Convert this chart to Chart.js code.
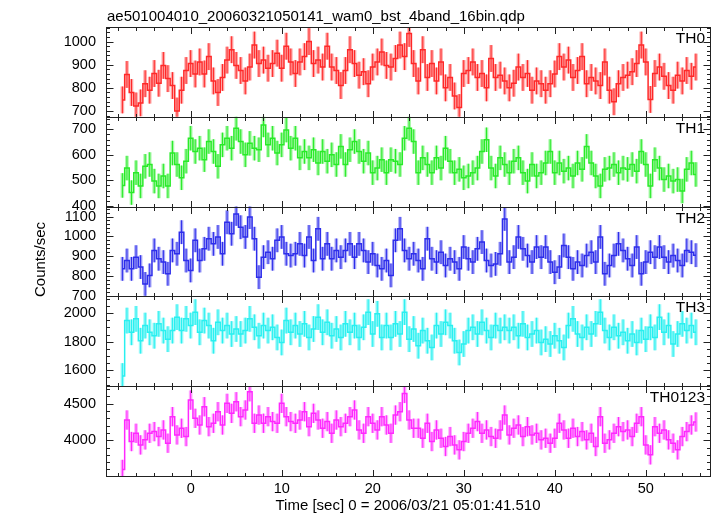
<!DOCTYPE html>
<html>
<head>
<meta charset="utf-8">
<script src="https://cdn.jsdelivr.net/npm/chart.js@4.4.1/dist/chart.umd.min.js"></script>
<style>
  html, body { margin: 0; padding: 0; background: #fff; }
</style>
</head>
<body>
<canvas id="lc" width="717" height="516"></canvas>
<script>
var titleText = 'ae501004010_20060321050141_wam0_bst_4band_16bin.qdp';
var xTitle = 'Time [sec] 0 = 2006/03/21 05:01:41.510';
var yTitle = 'Counts/sec';

// bins: 0.5 s, first bin centre at -7.5 s
var binStart = -7.5;
var binWidth = 0.5;

var bandNames = ['TH0', 'TH1', 'TH2', 'TH3', 'TH0123'];

var th0 = [748, 858, 780, 722, 735, 818, 790, 862, 820, 897,
  840, 810, 700, 790, 875, 905, 860, 912, 860, 935,
  830, 780, 845, 920, 965, 897, 875, 830, 890, 985,
  905, 920, 885, 905, 950, 885, 980, 912, 862, 912,
  935, 1000, 905, 920, 890, 980, 890, 875, 810, 875,
  965, 905, 855, 870, 818, 890, 912, 955, 897, 890,
  927, 985, 935, 1035, 905, 830, 965, 845, 905, 830,
  912, 800, 845, 765, 715, 862, 875, 912, 845, 862,
  800, 927, 845, 855, 830, 800, 820, 890, 845, 862,
  790, 830, 818, 790, 818, 860, 935, 890, 920, 845,
  875, 935, 818, 845, 830, 810, 912, 790, 740, 818,
  845, 855, 870, 905, 985, 912, 750, 862, 890, 850,
  810, 790, 855, 830, 875, 850, 890];

var th1 = [480, 548, 452, 530, 478, 555, 562, 497, 478, 517,
  478, 607, 562, 510, 575, 665, 613, 626, 581, 652,
  613, 555, 639, 665, 626, 704, 652, 600, 645, 626,
  620, 717, 639, 665, 607, 639, 697, 626, 665, 588,
  613, 588, 620, 568, 613, 575, 600, 562, 633, 562,
  620, 652, 613, 575, 607, 530, 548, 581, 530, 581,
  575, 562, 665, 704, 652, 530, 588, 562, 530, 588,
  548, 626, 575, 530, 543, 510, 517, 530, 548, 613,
  659, 548, 517, 588, 562, 530, 575, 588, 530, 497,
  562, 517, 530, 568, 613, 530, 568, 536, 548, 517,
  568, 543, 633, 568, 517, 478, 543, 548, 562, 530,
  548, 543, 562, 536, 613, 562, 478, 581, 548, 503,
  517, 497, 503, 458, 543, 568, 523];

var th2 = [836, 878, 836, 895, 845, 760, 803, 929, 887, 870,
  811, 929, 912, 1021, 878, 828, 980, 878, 937, 988,
  962, 997, 912, 1071, 1013, 1113, 1046, 997, 1097, 988,
  794, 895, 920, 887, 980, 997, 912, 903, 912, 962,
  903, 997, 878, 1038, 887, 962, 887, 929, 895, 929,
  962, 895, 962, 929, 870, 912, 853, 836, 878, 803,
  980, 1038, 929, 887, 912, 878, 836, 988, 887, 870,
  920, 853, 887, 870, 836, 946, 887, 870, 937, 971,
  878, 853, 861, 912, 1088, 870, 895, 997, 937, 903,
  870, 946, 895, 946, 870, 819, 845, 954, 895, 836,
  870, 853, 903, 920, 870, 997, 811, 853, 903, 962,
  929, 887, 853, 946, 811, 870, 920, 895, 946, 895,
  870, 903, 878, 853, 929, 920, 905];

var th3 = [1560, 1948, 1866, 1960, 1807, 1913, 1866, 1842, 1925, 1878,
  1818, 1878, 1972, 1878, 1960, 1913, 2007, 1866, 1948, 1913,
  1807, 1936, 1878, 1913, 1854, 1889, 1854, 1878, 1960, 1901,
  1842, 1913, 1878, 1901, 1830, 1795, 1948, 1866, 1913, 1854,
  1925, 1830, 1889, 1972, 1866, 1936, 1842, 1889, 1830, 1925,
  1866, 1913, 1830, 1901, 2007, 1854, 1995, 1830, 1913, 1830,
  1925, 1854, 2007, 1818, 1889, 1772, 1878, 1807, 1760, 1913,
  1854, 1936, 1913, 1807, 1725, 1784, 1878, 1901, 1854, 1936,
  1878, 1830, 1913, 1878, 1901, 1878, 1901, 1842, 1925, 1830,
  1854, 1878, 1795, 1818, 1784, 1842, 1807, 1760, 1913, 1960,
  1854, 1830, 1901, 1854, 1925, 2007, 1878, 1830, 1901, 1842,
  1866, 1807, 1854, 1795, 1878, 1818, 1901, 1830, 1972, 1866,
  1913, 1784, 1854, 1925, 1878, 1913, 1866];

var th0123 = [3600, 4277, 3982, 4095, 3936, 4005, 4095, 4118, 4050, 4141,
  3959, 4323, 4073, 4164, 4050, 4550, 4300, 4209, 4459, 4186,
  4232, 4391, 4209, 4505, 4368, 4527, 4323, 4414, 4664, 4232,
  4345, 4232, 4323, 4255, 4232, 4505, 4323, 4255, 4232, 4277,
  4391, 4186, 4368, 4277, 4164, 4255, 4095, 4277, 4186, 4232,
  4323, 4414, 4141, 4095, 4323, 4232, 4141, 4323, 4209, 4095,
  4345, 4391, 4641, 4277, 4164, 4164, 4027, 4232, 3982, 4141,
  4027, 3914, 4050, 3936, 3868, 3982, 4095, 4164, 4255, 4095,
  4141, 4050, 4027, 4141, 4345, 4073, 4164, 4209, 4050, 4186,
  4073, 4095, 4005, 4027, 3959, 4027, 4232, 4141, 4027, 4164,
  4050, 4118, 4005, 4095, 3914, 4323, 3959, 4005, 4095, 4186,
  4118, 4141, 4050, 4232, 4323, 3936, 3800, 4186, 4095, 4141,
  4005, 3959, 3868, 4050, 4118, 4209, 4250];

// typical 1-sigma error per band (counts/sec)
var bandErr = [58, 48, 60, 90, 132];

var yMin = [675, 397, 697, 1489, 3510];
var yMax = [1063, 749, 1150, 2117, 4740];
var yMajor = [[700, 800, 900, 1000], [400, 500, 600, 700], [700, 800, 900, 1000, 1100], [1600, 1800, 2000], [4000, 4500]];
var yMinorStep = [20, 20, 20, 50, 100];
var xMajor = [0, 10, 20, 30, 40, 50];
var xMinorStep = 2;

var bandColors = ['rgb(255,40,40)', 'rgb(40,235,40)', 'rgb(45,45,235)', 'rgb(40,240,240)', 'rgb(255,40,255)'];
var bandLight = ['rgba(255,40,40,0.42)', 'rgba(40,235,40,0.42)', 'rgba(45,45,235,0.42)', 'rgba(40,240,240,0.48)', 'rgba(255,40,255,0.42)'];

var FONT = '"Liberation Sans", Arial, Helvetica, sans-serif';
var series = [th0, th1, th2, th3, th0123];

function toPoints(arr) {
  return arr.map(function (v, i) { return { x: binStart + i * binWidth, y: v }; });
}

var datasets = series.map(function (arr, i) {
  return {
    label: bandNames[i],
    data: toPoints(arr),
    yAxisID: 'y' + i,
    borderColor: bandColors[i],
    borderWidth: 1.5,
    stepped: 'middle',
    pointRadius: 0,
    fill: false
  };
});

var scales = {
  x: {
    type: 'linear',
    position: 'bottom',
    min: -9.3,
    max: 57.05,
    grid: { display: false, drawTicks: false },
    border: { display: false },
    afterBuildTicks: function (s) { s.ticks = xMajor.map(function (v) { return { value: v }; }); },
    afterFit: function (s) { s.height = 40; },
    ticks: { color: '#000', padding: 4, maxRotation: 0, autoSkip: false, font: { family: FONT, size: 14.5 },
      callback: function (v) { return String(v); } },
    title: { display: true, text: xTitle, color: '#000', font: { family: FONT, size: 15 }, padding: { top: 0, bottom: 1 } }
  }
};
// left-hand stacked axes are laid out in reverse order, so add the bottom panel first
for (var i = bandNames.length - 1; i >= 0; i--) {
  (function (i) {
    scales['y' + i] = {
      type: 'linear',
      position: 'left',
      stack: 'lc',
      stackWeight: 1,
      min: yMin[i],
      max: yMax[i],
      grid: { display: false, drawTicks: false },
      border: { display: false },
      afterBuildTicks: function (s) { s.ticks = yMajor[i].map(function (v) { return { value: v }; }); },
      afterFit: function (s) { s.width = 106; },
      ticks: { color: '#000', padding: 10, autoSkip: false, font: { family: FONT, size: 14.5 },
        callback: function (v) { return String(v); } }
    };
  })(i);
}

// frame, tick marks, per-panel clipping, error bars and labels
var panelPlugin = {
  id: 'panelPlugin',
  beforeDatasetsDraw: function (chart) {
    var ctx = chart.ctx, area = chart.chartArea, xs = chart.scales.x;
    series.forEach(function (arr, i) {
      var ys = chart.scales['y' + i];
      ctx.save();
      ctx.beginPath();
      ctx.rect(area.left, ys.top, area.right - area.left, ys.bottom - ys.top);
      ctx.clip();
      arr.forEach(function (v, k) {
        var x = xs.getPixelForValue(binStart + k * binWidth);
        var yTop = ys.getPixelForValue(v + bandErr[i]);
        var yBot = ys.getPixelForValue(v - bandErr[i]);
        ctx.fillStyle = bandLight[i];
        ctx.fillRect(x - 1.8, yTop, 3.6, yBot - yTop);
        ctx.fillStyle = bandColors[i];
        ctx.fillRect(x - 0.5, yTop, 1, yBot - yTop);
      });
      ctx.restore();
    });
  },
  beforeDatasetDraw: function (chart, args) {
    var ctx = chart.ctx, area = chart.chartArea;
    var ys = chart.scales[args.meta.yAxisID];
    ctx.save();
    ctx.beginPath();
    ctx.rect(area.left, ys.top, area.right - area.left, ys.bottom - ys.top);
    ctx.clip();
  },
  afterDatasetDraw: function (chart) {
    chart.ctx.restore();
  },
  afterDraw: function (chart) {
    var ctx = chart.ctx, area = chart.chartArea, xs = chart.scales.x;
    ctx.save();
    ctx.strokeStyle = '#222';
    ctx.lineWidth = 1;
    bandNames.forEach(function (name, i) {
      var ys = chart.scales['y' + i];
      var top = Math.round(ys.top) + 0.5, bot = Math.round(ys.bottom) + 0.5;
      var l = Math.round(area.left) + 0.5, r = Math.round(area.right) + 0.5;
      ctx.strokeRect(l, top, r - l, bot - top);
      ctx.beginPath();
      // y ticks, left and right
      var start = Math.ceil(yMin[i] / yMinorStep[i]) * yMinorStep[i];
      for (var v = start; v <= yMax[i]; v += yMinorStep[i]) {
        var len = yMajor[i].indexOf(v) >= 0 ? 7 : 3.5;
        var y = Math.round(ys.getPixelForValue(v)) + 0.5;
        ctx.moveTo(l, y); ctx.lineTo(l + len, y);
        ctx.moveTo(r, y); ctx.lineTo(r - len, y);
      }
      // x ticks, top and bottom of every panel
      for (var t = -8; t <= 56; t += xMinorStep) {
        var xl = xMajor.indexOf(t) >= 0 ? 6.5 : 3.5;
        var x = Math.round(xs.getPixelForValue(t)) + 0.5;
        ctx.moveTo(x, top); ctx.lineTo(x, top + xl);
        ctx.moveTo(x, bot); ctx.lineTo(x, bot - xl);
      }
      ctx.stroke();
      ctx.fillStyle = '#000';
      ctx.font = '15.5px ' + FONT;
      ctx.textAlign = 'right';
      ctx.textBaseline = 'alphabetic';
      ctx.fillText(name, area.right - 5, ys.top + 16);
    });
    ctx.fillStyle = '#000';
    ctx.font = '15px ' + FONT;
    ctx.textAlign = 'left';
    ctx.textBaseline = 'alphabetic';
    ctx.fillText(titleText, area.left + 1, 21);
    ctx.translate(41, (area.top + area.bottom) / 2 + 8);
    ctx.rotate(-Math.PI / 2);
    ctx.textAlign = 'center';
    ctx.textBaseline = 'middle';
    ctx.fillText(yTitle, 0, 0);
    ctx.restore();
  }
};

new Chart(document.getElementById('lc'), {
  type: 'line',
  data: { datasets: datasets },
  options: {
    responsive: false,
    animation: false,
    devicePixelRatio: 1,
    layout: { padding: { top: 27, right: 7, bottom: 0, left: 0 } },
    plugins: { legend: { display: false }, tooltip: { enabled: false }, title: { display: false } },
    scales: scales
  },
  plugins: [panelPlugin]
});
</script>
</body>
</html>
